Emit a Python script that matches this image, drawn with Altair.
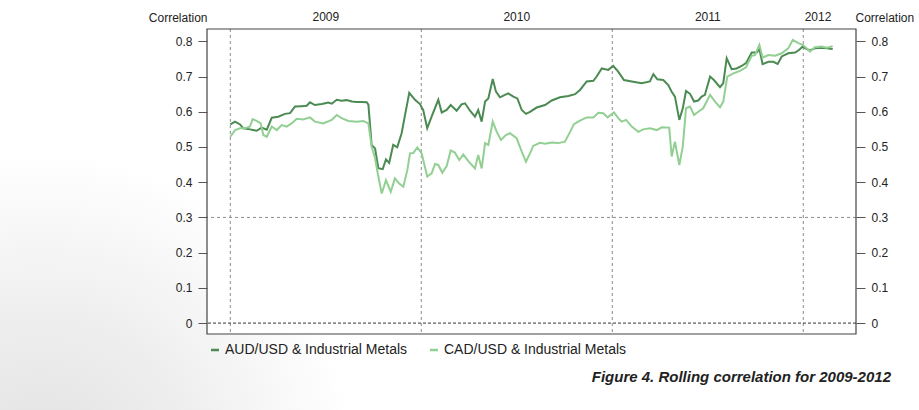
import altair as alt
import pandas as pd

# Weekly rolling correlation, time as decimal year
aud_t = [2009.000, 2009.025, 2009.051, 2009.068, 2009.103, 2009.138, 2009.164, 2009.191, 2009.217, 2009.251,
         2009.286, 2009.313, 2009.339, 2009.374, 2009.400, 2009.417, 2009.443, 2009.479, 2009.513, 2009.531,
         2009.557, 2009.583, 2009.609, 2009.636, 2009.662, 2009.688, 2009.714, 2009.723, 2009.740, 2009.758,
         2009.775, 2009.798, 2009.815, 2009.832, 2009.853, 2009.874, 2009.897, 2009.915, 2009.937, 2009.967,
         2009.993, 2010.010, 2010.031, 2010.054, 2010.089, 2010.107, 2010.133, 2010.154, 2010.185, 2010.211,
         2010.229, 2010.255, 2010.281, 2010.298, 2010.316, 2010.334, 2010.351, 2010.374, 2010.391, 2010.412,
         2010.438, 2010.455, 2010.482, 2010.503, 2010.526, 2010.548, 2010.569, 2010.604, 2010.648, 2010.683,
         2010.726, 2010.770, 2010.805, 2010.831, 2010.866, 2010.901, 2010.918, 2010.945, 2010.979, 2011.005,
         2011.031, 2011.061, 2011.102, 2011.154, 2011.197, 2011.215, 2011.236, 2011.267, 2011.293, 2011.311,
         2011.328, 2011.351, 2011.369, 2011.386, 2011.407, 2011.428, 2011.450, 2011.468, 2011.485, 2011.512,
         2011.532, 2011.564, 2011.581, 2011.599, 2011.625, 2011.651, 2011.677, 2011.700, 2011.730, 2011.756,
         2011.770, 2011.787, 2011.817, 2011.843, 2011.866, 2011.887, 2011.921, 2011.957, 2011.979, 2011.997,
         2012.018, 2012.035, 2012.061, 2012.096, 2012.123, 2012.154]
aud_v = [0.564, 0.572, 0.564, 0.553, 0.550, 0.546, 0.555, 0.549, 0.583, 0.586,
         0.594, 0.596, 0.615, 0.616, 0.617, 0.627, 0.619, 0.622, 0.626, 0.623,
         0.634, 0.631, 0.633, 0.629, 0.628, 0.628, 0.627, 0.620, 0.506, 0.496,
         0.440, 0.437, 0.465, 0.455, 0.506, 0.499, 0.539, 0.591, 0.654, 0.634,
         0.622, 0.605, 0.553, 0.586, 0.634, 0.598, 0.605, 0.619, 0.603, 0.621,
         0.624, 0.603, 0.586, 0.605, 0.572, 0.629, 0.638, 0.693, 0.657, 0.641,
         0.648, 0.652, 0.643, 0.638, 0.605, 0.594, 0.600, 0.612, 0.619, 0.632,
         0.641, 0.645, 0.650, 0.662, 0.686, 0.688, 0.700, 0.723, 0.719, 0.730,
         0.714, 0.690, 0.686, 0.681, 0.686, 0.707, 0.692, 0.690, 0.676, 0.657,
         0.643, 0.577, 0.610, 0.659, 0.651, 0.629, 0.632, 0.643, 0.648, 0.700,
         0.690, 0.670, 0.681, 0.752, 0.721, 0.723, 0.730, 0.738, 0.768, 0.768,
         0.778, 0.735, 0.742, 0.742, 0.736, 0.757, 0.766, 0.768, 0.776, 0.785,
         0.778, 0.774, 0.780, 0.782, 0.780, 0.778]

cad_t = [2009.000, 2009.025, 2009.051, 2009.077, 2009.103, 2009.117, 2009.138, 2009.159, 2009.173, 2009.191,
         2009.217, 2009.243, 2009.269, 2009.295, 2009.321, 2009.348, 2009.382, 2009.417, 2009.443, 2009.487,
         2009.531, 2009.557, 2009.583, 2009.618, 2009.662, 2009.696, 2009.723, 2009.740, 2009.758, 2009.775,
         2009.793, 2009.815, 2009.840, 2009.862, 2009.883, 2009.906, 2009.927, 2009.941, 2009.958, 2009.979,
         2010.002, 2010.031, 2010.054, 2010.072, 2010.089, 2010.110, 2010.133, 2010.154, 2010.176, 2010.199,
         2010.220, 2010.246, 2010.281, 2010.298, 2010.316, 2010.334, 2010.351, 2010.374, 2010.395, 2010.417,
         2010.443, 2010.464, 2010.499, 2010.526, 2010.548, 2010.569, 2010.586, 2010.621, 2010.648, 2010.683,
         2010.717, 2010.752, 2010.779, 2010.799, 2010.831, 2010.866, 2010.901, 2010.927, 2010.953, 2010.976,
         2011.009, 2011.031, 2011.049, 2011.072, 2011.102, 2011.136, 2011.162, 2011.197, 2011.233, 2011.259,
         2011.298, 2011.311, 2011.328, 2011.351, 2011.369, 2011.386, 2011.407, 2011.428, 2011.450, 2011.476,
         2011.512, 2011.538, 2011.564, 2011.581, 2011.602, 2011.634, 2011.669, 2011.700, 2011.730, 2011.747,
         2011.770, 2011.787, 2011.817, 2011.852, 2011.887, 2011.921, 2011.945, 2011.974, 2011.997, 2012.018,
         2012.035, 2012.061, 2012.096, 2012.123, 2012.154]
cad_v = [0.529, 0.548, 0.553, 0.553, 0.558, 0.579, 0.574, 0.567, 0.534, 0.529,
         0.558, 0.548, 0.562, 0.558, 0.567, 0.580, 0.578, 0.584, 0.572, 0.567,
         0.577, 0.591, 0.582, 0.574, 0.572, 0.574, 0.567, 0.501, 0.468, 0.416,
         0.368, 0.406, 0.373, 0.411, 0.397, 0.387, 0.435, 0.482, 0.483, 0.499,
         0.482, 0.416, 0.425, 0.452, 0.449, 0.427, 0.446, 0.490, 0.484, 0.463,
         0.479, 0.460, 0.439, 0.477, 0.439, 0.511, 0.506, 0.572, 0.543, 0.520,
         0.534, 0.539, 0.525, 0.487, 0.458, 0.482, 0.503, 0.512, 0.509, 0.513,
         0.511, 0.515, 0.543, 0.565, 0.575, 0.584, 0.584, 0.597, 0.596, 0.584,
         0.598, 0.582, 0.572, 0.577, 0.558, 0.543, 0.550, 0.553, 0.548, 0.556,
         0.555, 0.473, 0.515, 0.449, 0.501, 0.610, 0.615, 0.591, 0.600, 0.610,
         0.648, 0.629, 0.613, 0.629, 0.700, 0.709, 0.716, 0.726, 0.759, 0.761,
         0.790, 0.754, 0.761, 0.759, 0.766, 0.780, 0.804, 0.795, 0.790, 0.780,
         0.771, 0.783, 0.785, 0.782, 0.786]

series_names = ["AUD/USD & Industrial Metals", "CAD/USD & Industrial Metals"]
series_colors = ["#4b8a52", "#92cf92"]

year_starts = [2009, 2010, 2011, 2012]
year_labels = ["2009", "2010", "2011", "2012"]
y_ticks = [0.0, 0.1, 0.2, 0.3, 0.4, 0.5, 0.6, 0.7, 0.8]
zero_level = [0.0]
ref_level = [0.3]
x_domain = [2008.878, 2012.276]
y_domain = [-0.031, 0.835]
axis_title = "Correlation"
caption = "Figure 4. Rolling correlation for 2009-2012"

FONT = "Liberation Sans"
W, H = 649, 305
PAD = {"left": 207, "top": 29, "right": 63, "bottom": 76}

lines_df = pd.concat([
    pd.DataFrame({"t": aud_t, "value": aud_v, "series": series_names[0]}),
    pd.DataFrame({"t": cad_t, "value": cad_v, "series": series_names[1]}),
], ignore_index=True)

# year labels centred on the span each year covers within the data
last_t = max(aud_t[-1], cad_t[-1])
ends = year_starts[1:] + [last_t]
label_pos = [(s + min(e, last_t)) / 2 for s, e in zip(year_starts, ends)]
years_df = pd.DataFrame({"pos": label_pos, "label": year_labels})

xs = alt.Scale(domain=x_domain, nice=False, zero=False)
ys = alt.Scale(domain=y_domain, nice=False, zero=False)

def y_axis(orient):
    left = orient == "left"
    return alt.Axis(
        orient=orient, values=y_ticks, format=".1~f", grid=False, domain=False,
        tickSize=9, tickColor="#555555", tickWidth=1, zindex=1,
        labelFont=FONT, labelFontSize=12, labelColor="#222222", labelPadding=6,
        title=axis_title, titleAngle=0, titleFont=FONT, titleFontSize=12,
        titleFontWeight="normal", titleColor="#222222",
        titleAlign="right" if left else "left", titleBaseline="middle",
        titleX=0 if left else -1, titleY=-12,
    )

one_row = pd.DataFrame({"k": [0]})

# soft grey page shading in the lower-left corner, behind the white plot panel
shade = alt.Chart(one_row).mark_rect(
    color=alt.Gradient(
        gradient="radial", x1=0.08, y1=0.9, r1=0, x2=0.08, y2=0.9, r2=0.62,
        stops=[alt.GradientStop(offset=0, color="#e2e2e2"),
               alt.GradientStop(offset=0.45, color="#ededed"),
               alt.GradientStop(offset=1, color="#ffffff")],
    )
).encode(
    x=alt.value(-PAD["left"]), x2=alt.value(300),
    y=alt.value(90), y2=alt.value(H + PAD["bottom"]),
)

panel = alt.Chart(one_row).mark_rect(color="white").encode(
    x=alt.value(0), x2=alt.value(W), y=alt.value(0), y2=alt.value(H)
)

frame = alt.Chart(one_row).mark_rect(
    filled=False, stroke="#444444", strokeWidth=1.2
).encode(x=alt.value(0), x2=alt.value(W), y=alt.value(0), y2=alt.value(H))

year_rules = alt.Chart(pd.DataFrame({"year": year_starts})).mark_rule(
    color="#8c8c8c", strokeDash=[3, 3], strokeWidth=1
).encode(x=alt.X("year:Q", scale=xs, axis=None))

ref_rule = alt.Chart(pd.DataFrame({"level": ref_level})).mark_rule(
    color="#8c8c8c", strokeDash=[3, 3], strokeWidth=1
).encode(y=alt.Y("level:Q", scale=ys, axis=y_axis("left")))

zero_rule = alt.Chart(pd.DataFrame({"level": zero_level})).mark_rule(
    color="#333333", strokeDash=[3, 2], strokeWidth=1
).encode(y=alt.Y("level:Q", scale=ys, axis=None))

lines = alt.Chart(lines_df).mark_line(strokeWidth=2).encode(
    x=alt.X("t:Q", scale=xs, axis=None),
    y=alt.Y("value:Q", scale=ys, axis=y_axis("right")),
    color=alt.Color(
        "series:N",
        scale=alt.Scale(domain=series_names, range=series_colors),
        legend=alt.Legend(
            orient="none", legendX=1, legendY=314, direction="horizontal",
            title=None, symbolType="stroke", symbolSize=64, symbolStrokeWidth=2.5,
            labelFont=FONT, labelFontSize=14, labelColor="#222222", labelLimit=0,
            labelOffset=3, columnPadding=17, padding=0, zindex=1,
        ),
    ),
    detail="series:N",
)

year_text = alt.Chart(years_df).mark_text(
    font=FONT, fontSize=12, color="#222222", baseline="middle", align="center"
).encode(x=alt.X("pos:Q", scale=xs, axis=None), y=alt.value(-12), text="label:N")

caption_text = alt.Chart(pd.DataFrame({"c": [caption]})).mark_text(
    font=FONT, fontSize=15, fontStyle="italic", fontWeight="bold", color="#222222",
    align="right", baseline="middle"
).encode(x=alt.value(684), y=alt.value(348), text="c:N")

chart = alt.layer(
    shade, panel, year_rules, ref_rule, zero_rule, lines, frame, year_text, caption_text
).resolve_axis(y="independent").properties(
    width=W, height=H,
    autosize=alt.AutoSizeParams(type="none"),
    padding=PAD,
    background="white",
).configure_view(strokeWidth=0, fill="white")

chart.save("out.html", embed_options={"renderer": "svg", "actions": False})
